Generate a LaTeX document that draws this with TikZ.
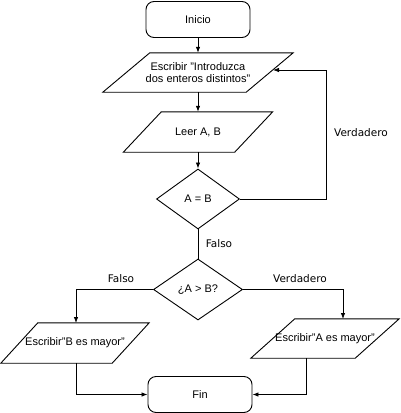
\documentclass[tikz,border=0pt]{standalone}
\usepackage{fontspec}
\setmainfont{Liberation Sans}
\newfontfamily\lblfont{DejaVu Sans}
\usetikzlibrary{shapes.geometric,arrows.meta}
\newcommand\drawpara[2]{\draw[line width=0.9pt] (#1.south west) -- ([xshift=#2]#1.north west) -- (#1.north east) -- ([xshift=-#2]#1.south east) -- cycle;}
\begin{document}
\begin{tikzpicture}[x=1pt,y=-1pt,
  every node/.style={font=\fontsize{11}{12.5}\selectfont},
  term/.style={draw,line width=0.9pt,rounded corners=8pt,minimum width=104pt,minimum height=36pt,inner sep=0pt},
  io/.style={rectangle,inner sep=0pt,align=center},
  decis/.style={draw,line width=0.9pt,diamond,inner sep=0pt},
  lbl/.style={font=\lblfont\fontsize{10.5}{12}\selectfont},
  conn/.style={line width=0.8pt,-{Latex[length=6pt,width=4.5pt]}},
  plain/.style={line width=0.8pt}]
\useasboundingbox (0,0) rectangle (400,413);
\node[term] (ini) at (198,19.5) {Inicio};
\node[io,minimum width=190pt,minimum height=39pt] (p1) at (198,72.5) {Escribir "Introduzca\\dos enteros distintos"};
\drawpara{p1}{47pt}
\node[io,minimum width=149pt,minimum height=40pt] (p2) at (198,132) {Leer A, B};
\drawpara{p2}{38pt}
\node[decis,minimum width=83pt,minimum height=60pt,aspect=1.38] (d1) at (198,199) {A = B};
\node[decis,minimum width=89pt,minimum height=61pt,aspect=1.46] (d2) at (198,289.5) {¿A > B?};
\node[io,minimum width=148pt,minimum height=40pt] (b) at (75,343) {Escribir"B es mayor"};
\drawpara{b}{37pt}
\node[io,minimum width=148pt,minimum height=39pt] (a) at (325,338.5) {Escribir"A es mayor"};
\drawpara{a}{44pt}
\node[term] (fin) at (200,394.5) {Fin};
\coordinate (lp) at (326,70);
\coordinate (p1in) at (273,70);
\coordinate (bin) at (76,323);
\coordinate (ain) at (343,319);
\coordinate (bout) at (76,363);
\coordinate (aout) at (306,358);
\draw[conn] (ini.south) -- (ini.south |- p1.north);
\draw[conn] (ini.south |- p1.south) -- (ini.south |- p2.north);
\draw[conn] (ini.south |- p2.south) -- (d1.north);
\draw[plain] (d1.east) -| (lp);
\draw[conn] (lp) -- (p1in);
\draw[plain] (d1.south) -- (d2.north);
\draw[conn] (d2.west) -| (bin);
\draw[conn] (d2.east) -| (ain);
\draw[conn] (bout) |- (fin);
\draw[conn] (aout) |- (fin);
\node[lbl] (lv1) at (361,133) {Verdadero};
\node[lbl] (lf1) at (219,244) {Falso};
\node[lbl] (lf2) at (121,279) {Falso};
\node[lbl] (lv2) at (300,279) {Verdadero};
\end{tikzpicture}
\end{document}
